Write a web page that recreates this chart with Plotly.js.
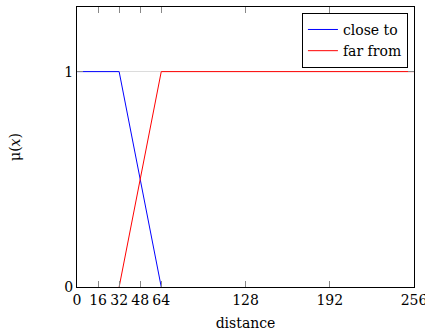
<!DOCTYPE html>
<html>
<head>
<meta charset="utf-8">
<script src="https://cdn.plot.ly/plotly-3.0.1.min.js"></script>
<style>html,body{margin:0;padding:0;background:#fff;}#chart{width:425px;height:336px;}</style>
</head>
<body>
<div id="chart"></div>
<script>
var closeX = [0, 32, 64];
var closeY = [1, 1, 0];
var farX = [32, 64, 256];
var farY = [0, 1, 1];
var xTicks = [0, 16, 32, 48, 64, 128, 192, 256];
var yTicks = [0, 1];

var font = {family: 'DejaVu Serif', size: 14, color: '#000'};

var data = [
  {x: closeX, y: closeY, mode: 'lines', name: 'close to', line: {color: '#0000ff', width: 1}},
  {x: farX, y: farY, mode: 'lines', name: 'far from', line: {color: '#ff0000', width: 1}}
];

var layout = {
  width: 425, height: 336,
  margin: {l: 77, r: 11, t: 7, b: 49},
  paper_bgcolor: '#fff', plot_bgcolor: '#fff',
  font: font,
  showlegend: true,
  legend: {x: 0.982, y: 0.979, xanchor: 'right', yanchor: 'top', bordercolor: '#000', borderwidth: 1,
           bgcolor: '#fff', font: font, itemwidth: 30, tracegroupgap: 0},
  xaxis: {
    range: [0, 256], tickvals: xTicks, ticktext: xTicks.map(String),
    ticks: 'inside', ticklen: 6, tickcolor: '#888', mirror: 'ticks',
    showline: true, linecolor: '#000', linewidth: 1, showgrid: false, zeroline: false,
    tickfont: font, fixedrange: true, ticklabeloverflow: 'allow',
    title: {text: 'distance', font: font, standoff: 11}
  },
  yaxis: {
    range: [0, 1.3], tickvals: yTicks, ticktext: yTicks.map(String),
    ticks: 'inside', ticklen: 6, tickcolor: '#888', mirror: 'ticks',
    showline: true, linecolor: '#000', linewidth: 1, showgrid: true, gridcolor: '#dcdcdc', gridwidth: 1,
    zeroline: false, tickfont: font, fixedrange: true,
    title: {text: 'μ(<i>x</i>)', font: font, standoff: 40}
  }
};

Plotly.newPlot('chart', data, layout, {displayModeBar: false, staticPlot: true});
</script>
</body>
</html>
